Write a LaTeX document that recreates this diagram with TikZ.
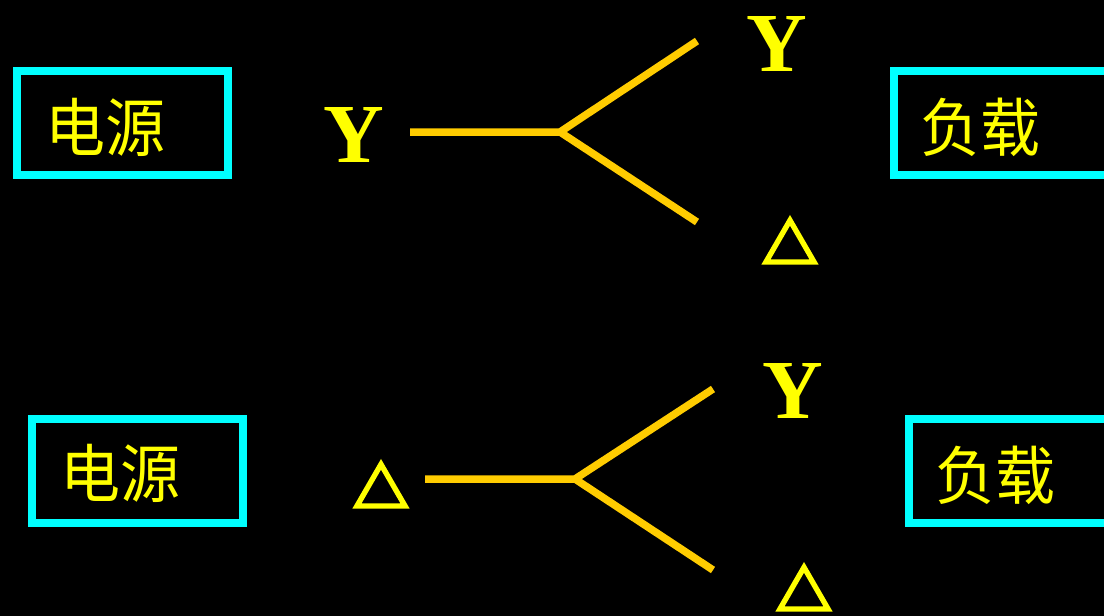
\documentclass[tikz,border=0pt]{standalone}
\usepackage{fontspec}
\setmainfont{Liberation Serif}
\newfontfamily\cjk{Noto Sans CJK SC}
\newfontfamily\symfont[FakeBold=6]{Noto Sans CJK SC}
\definecolor{boxcyan}{HTML}{00FFFF}
\definecolor{txtyellow}{HTML}{FFFF00}
\definecolor{forkorange}{HTML}{FFCC00}
\begin{document}
\begin{tikzpicture}[x=1pt,y=-1pt,
  frame/.style={draw=boxcyan,line width=8pt,inner sep=0pt},
  cn/.style={text=txtyellow,inner sep=0pt,font=\cjk\fontsize{60}{60}\selectfont},
  ylab/.style={text=txtyellow,inner sep=0pt,font=\bfseries\fontsize{84}{84}\selectfont},
  dlab/.style={text=txtyellow,inner sep=0pt,font=\symfont\fontsize{55}{55}\selectfont},
  fork/.style={draw=forkorange,line width=7.5pt,line cap=butt,line join=miter}]
\fill[black] (0,0) rectangle (1104,616);
\useasboundingbox (0,0) rectangle (1104,616);
\clip (0,0) rectangle (1104,616);

% --- upper row: Y source ---
\node[frame,minimum width=211pt,minimum height=104pt] (srcA) at (122.5,123) {};
\node[cn,yscale=1.06] (srcAt) at (105.5,127.5) {电源};
\node[frame,minimum width=230pt,minimum height=104pt] (ldA) at (1009,123) {};
\node[cn,yscale=1.06] (ldAt) at (980,127.5) {负载};

\node[ylab] (yA) at (354,134.5) {Y};
\node[ylab] (yAu) at (777,43.5) {Y};
\node[dlab] (dAl) at (790,241) {△};

\coordinate (sA) at (410,132);
\coordinate (jA) at (560,132);
\coordinate (uA) at (697,41);
\coordinate (lA) at (697,222);
\draw[fork] (sA) -- (jA) -- (uA);
\draw[fork] (jA) -- (lA);

% --- lower row: delta source ---
\node[frame,minimum width=211pt,minimum height=104pt] (srcB) at (137.5,470.5) {};
\node[cn,yscale=1.06] (srcBt) at (120,473) {电源};
\node[frame,minimum width=230pt,minimum height=104pt] (ldB) at (1024,470.5) {};
\node[cn,yscale=1.06] (ldBt) at (995,475) {负载};

\node[dlab] (dB) at (381,485) {△};
\node[ylab] (yBu) at (792.5,391) {Y};
\node[dlab] (dBl) at (804,588) {△};

\coordinate (sB) at (425,479);
\coordinate (jB) at (575,479);
\coordinate (uB) at (713,389);
\coordinate (lB) at (713,570);
\draw[fork] (sB) -- (jB) -- (uB);
\draw[fork] (jB) -- (lB);
\end{tikzpicture}
\end{document}
